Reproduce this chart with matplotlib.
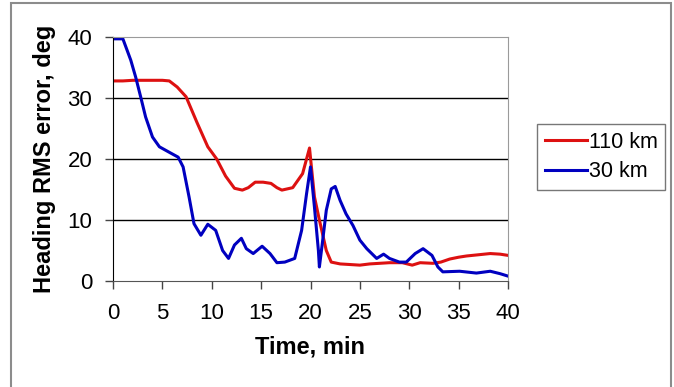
import matplotlib
matplotlib.use('Agg')
import matplotlib.pyplot as plt
from matplotlib.patches import Rectangle

plt.rcParams['font.family'] = ['Liberation Sans', 'DejaVu Sans']

# 110 km curve (red)
t_110 = [0, 1, 2, 3, 4, 5, 5.7, 6.5, 7.4, 8.5, 9.6, 10.5, 11.4, 12.3, 13.1, 13.7, 14.4, 15.2,
         16.0, 16.6, 17.1, 18.2, 19.2, 19.9, 20.4, 20.9, 21.6, 22.1, 23, 24, 25, 26, 27, 28,
         29.3, 30.3, 31.1, 32.4, 33.2, 34.1, 35, 35.8, 37, 38.2, 39.2, 40]
v_110 = [32.8, 32.8, 32.9, 32.9, 32.9, 32.9, 32.8, 31.8, 30.2, 26.0, 22.0, 20.0, 17.2, 15.2, 14.9,
         15.3, 16.2, 16.2, 16.0, 15.3, 14.9, 15.3, 17.6, 21.8, 13.8, 10.0, 5.0, 3.1, 2.8, 2.7,
         2.6, 2.8, 2.9, 3.0, 3.0, 2.6, 3.0, 2.9, 3.1, 3.6, 3.9, 4.1, 4.3, 4.5, 4.4, 4.2]

# 30 km curve (blue)
t_30 = [0, 1.0, 1.8, 2.3, 2.8, 3.3, 4.0, 4.7, 5.7, 6.6, 7.1, 7.7, 8.2, 8.9, 9.6, 10.4, 11.1,
        11.7, 12.3, 13.0, 13.5, 14.2, 15.1, 15.9, 16.6, 17.4, 18.4, 19.1, 19.6, 20.0, 20.4,
        20.8, 20.9, 21.2, 21.6, 22.1, 22.5, 23.0, 23.6, 24.3, 25.0, 25.7, 26.7, 27.4, 28.0,
        29.0, 29.7, 30.6, 31.4, 32.3, 32.9, 33.4, 35.1, 36.8, 38.2, 39.2, 40]
v_30 = [39.7, 39.7, 36.2, 33.4, 30.2, 26.9, 23.6, 22.0, 21.1, 20.3, 18.7, 13.8, 9.4, 7.5, 9.3,
        8.3, 5.0, 3.7, 5.9, 7.0, 5.3, 4.5, 5.7, 4.5, 3.0, 3.1, 3.7, 8.3, 14.3, 18.7, 12.1,
        5.0, 2.3, 6.2, 11.6, 15.1, 15.5, 13.2, 11.0, 9.1, 6.7, 5.3, 3.7, 4.4, 3.7, 3.1, 3.1,
        4.5, 5.3, 4.2, 2.3, 1.5, 1.6, 1.3, 1.6, 1.2, 0.8]

fig = plt.figure(figsize=(6.74, 3.87), dpi=100)
# gray frame around the chart
fig.patches.append(Rectangle((11/674, -0.05), 660/674, 1.05 - 3/387, transform=fig.transFigure,
                             fill=False, edgecolor='#8c8c8c', linewidth=1.5))
ax = fig.add_axes([113/674, 1 - 281/387, 395/674, 244/387])

ax.plot(t_110, v_110, color='#dd1111', linewidth=2.2, label='110 km')
ax.plot(t_30, v_30, color='#0000c0', linewidth=2.2, label='30 km')

ax.set_xlim(0, 40)
ax.set_ylim(0, 40)
ax.set_xticks(range(0, 41, 5))
ax.set_yticks(range(0, 41, 10))
for y in (10, 20, 30):
    ax.axhline(y, color='black', linewidth=1, zorder=0)
ax.spines['top'].set_color('#9a9a9a')
ax.spines['right'].set_color('#9a9a9a')
ax.spines['left'].set_color('black')
ax.spines['bottom'].set_color('#555555')
ax.tick_params(direction='out', length=6, width=1, color='#444444', labelsize=16, pad=9)
ax.tick_params(axis='x', pad=10)

ax.set_xlabel('Time, min', fontsize=17, fontweight='bold', labelpad=8)
ax.set_ylabel('Heading RMS error, deg', fontsize=17, fontweight='bold', labelpad=8)

fig.legend(loc='upper left', bbox_to_anchor=(537/674, 1 - 124/387), fontsize=15.5,
           frameon=True, fancybox=False, edgecolor='#555555', handlelength=1.95,
           handletextpad=0.1, borderpad=0.35, labelspacing=0.4, borderaxespad=0)

fig.savefig('out.png', dpi=100)
